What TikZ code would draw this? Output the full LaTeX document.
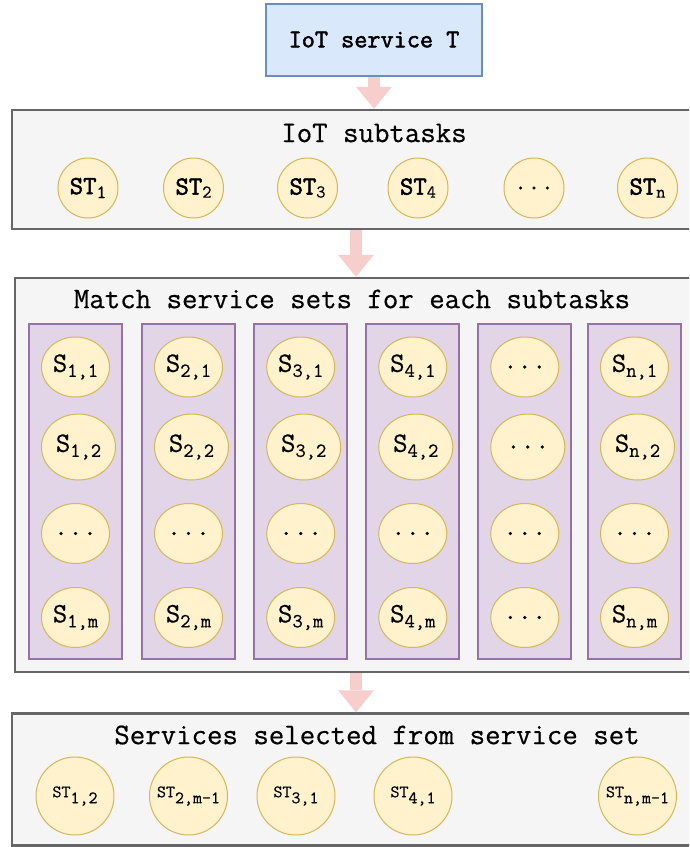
\documentclass[tikz,border=0pt]{standalone}
\usepackage{fontspec}
\setmonofont{Latin Modern Mono}[UprightFeatures={FakeBold=0.5}, BoldFont={Latin Modern Mono}, BoldFeatures={FakeBold=2}]
\usetikzlibrary{arrows.meta, shapes.geometric}
\definecolor{panelfill}{HTML}{F5F5F5}
\definecolor{panelline}{HTML}{666666}
\definecolor{taskfill}{HTML}{DAE8FC}
\definecolor{taskline}{HTML}{6C8EBF}
\definecolor{setfill}{HTML}{E1D5E7}
\definecolor{setline}{HTML}{9673A6}
\definecolor{svcfill}{HTML}{FFF2CC}
\definecolor{svcline}{HTML}{D6B656}
\definecolor{flowpink}{HTML}{F8CECC}
% lowered index: size, drop, text
\newcommand{\lsub}[3]{\raisebox{-#2pt}{\mdseries\fontsize{#1}{#1}\selectfont #3}}

\begin{document}
\begin{tikzpicture}[x=1pt, y=-1pt, every node/.style={inner sep=0pt, font=\ttfamily},
	task/.style={draw=taskline, fill=taskfill, line width=2pt, minimum width=216pt, minimum height=72pt, font=\ttfamily\bfseries\fontsize{25.5}{26}\selectfont},
	panel/.style={draw=panelline, fill=panelfill, line width=2.5pt},
	heading/.style={font=\ttfamily\fontsize{30}{30}\selectfont},
	setcol/.style={draw=setline, fill=setfill, line width=2pt, minimum width=93pt, minimum height=335pt},
	svc/.style={draw=svcline, fill=svcfill, line width=1pt},
	subtask/.style={svc, circle, minimum size=60pt, font=\ttfamily\bfseries\fontsize{26}{26}\selectfont},
	cand/.style={svc, ellipse, minimum width=68pt, minimum height=60pt, font=\ttfamily\fontsize{28}{28}\selectfont},
	candwide/.style={cand, minimum width=74pt, minimum height=66pt, xshift=3pt},
	chosen/.style={svc, circle, minimum size=78pt, font=\ttfamily\fontsize{17.5}{18}\selectfont},
	flow/.style={draw=flowpink, line width=12pt, -{Triangle[length=22pt, width=36pt, line width=0pt]}}]
	\clip (0,0) rectangle (689,847);

	\node[task] (iot) at (374,39.6) {IoT service T};

	% subtasks
	\node[panel, minimum width=724pt, minimum height=119pt] (sub) at (374,169.5) {};
	\node[heading] (subtitle) at (374,133) {IoT subtasks};
	\node[subtask] (st1) at (88,188) {ST\lsub{19}{4}{1}};
	\node[subtask] (st2) at (193.5,188) {ST\lsub{18}{3}{2}};
	\node[subtask] (st3) at (307.5,188) {ST\lsub{18}{3}{3}};
	\node[subtask] (st4) at (418,188) {ST\lsub{18}{3}{4}};
	\node[subtask] (stdots) at (534,188) {\mdseries ...};
	\node[subtask] (stn) at (647.5,188) {ST\lsub{18}{3}{n}};

	% service sets
	\node[panel, minimum width=682pt, minimum height=394pt] (match) at (356,475) {};
	\node[heading] (matchtitle) at (352,299) {Match service sets for each subtasks};
	\node[setcol] (set1) at (75.2,491.5) {};
	\node[setcol] (set2) at (188.2,491.5) {};
	\node[setcol] (set3) at (300.5,491.5) {};
	\node[setcol] (set4) at (412.5,491.5) {};
	\node[setcol] (set5) at (524.5,491.5) {};
	\node[setcol] (set6) at (634.4,491.5) {};

	\node[cand] (s11) at (75.5,367) {S\lsub{20}{5}{1,1}};
	\node[candwide] (s12) at (75.5,447) {S\lsub{20}{5}{1,2}};
	\node[cand] (s1d) at (75.5,533.5) {...};
	\node[cand] (s1m) at (75.5,617.5) {S\lsub{20}{5}{1,m}};

	\node[cand] (s21) at (188.5,367) {S\lsub{20}{5}{2,1}};
	\node[candwide] (s22) at (188.5,447) {S\lsub{20}{5}{2,2}};
	\node[cand] (s2d) at (188.5,533.5) {...};
	\node[cand] (s2m) at (188.5,617.5) {S\lsub{20}{5}{2,m}};

	\node[cand] (s31) at (300.7,367) {S\lsub{20}{5}{3,1}};
	\node[candwide] (s32) at (300.7,447) {S\lsub{20}{5}{3,2}};
	\node[cand] (s3d) at (300.7,533.5) {...};
	\node[cand] (s3m) at (300.7,617.5) {S\lsub{20}{5}{3,m}};

	\node[cand] (s41) at (412.8,367) {S\lsub{20}{5}{4,1}};
	\node[candwide] (s42) at (412.8,447) {S\lsub{20}{5}{4,2}};
	\node[cand] (s4d) at (412.8,533.5) {...};
	\node[cand] (s4m) at (412.8,617.5) {S\lsub{20}{5}{4,m}};

	\node[cand] (s51) at (524.8,367) {...};
	\node[candwide] (s52) at (524.8,447) {...};
	\node[cand] (s5d) at (524.8,533.5) {...};
	\node[cand] (s5m) at (524.8,617.5) {...};

	\node[cand] (sn1) at (634.5,367) {S\lsub{20}{5}{n,1}};
	\node[candwide] (sn2) at (634.5,447) {S\lsub{20}{5}{n,2}};
	\node[cand] (snd) at (634.5,533.5) {...};
	\node[cand] (snm) at (634.5,617.5) {S\lsub{20}{5}{n,m}};

	% selected services
	\node[panel, minimum width=730pt, minimum height=132pt] (sel) at (377,779.5) {};
	\node[heading] (seltitle) at (377,735) {Services selected from service set};
	\node[chosen] (c1) at (75,796) {ST\lsub{17.5}{6}{1,2}};
	\node[chosen] (c2) at (188.5,796) {ST\lsub{17.5}{6}{2,m-1}};
	\node[chosen] (c3) at (296,796) {ST\lsub{17.5}{6}{3,1}};
	\node[chosen] (c4) at (413,796) {ST\lsub{17.5}{6}{4,1}};
	\node[chosen] (cn) at (637.5,796) {ST\lsub{17.5}{6}{n,m-1}};

	\draw[flow] (iot.south) -- (sub.north);
	\draw[flow] (sub.south -| match.north) -- (match.north);
	\draw[flow] (match.south) -- (match.south |- sel.north);
\end{tikzpicture}
\end{document}
